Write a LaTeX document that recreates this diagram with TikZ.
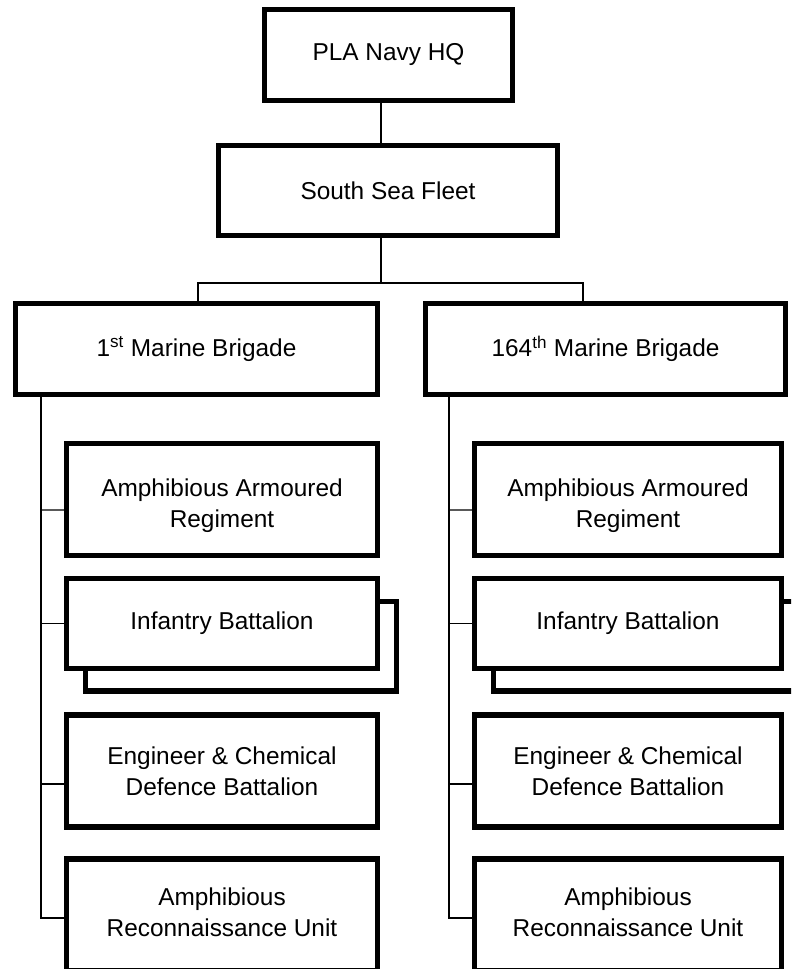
\documentclass[tikz,border=0pt]{standalone}
\usepackage{fontspec}
\setmainfont{Liberation Sans}
\begin{document}
\begin{tikzpicture}[x=0.75pt,y=-0.75pt,
  txt/.style={align=center, inner sep=0pt, font=\fontsize{18.3}{23}\selectfont},
  box/.style={draw, line width=4pt, fill=white, inner sep=0pt, txt},
  top/.style={box, minimum height=68pt},
  childL/.style={box, minimum width=233pt},
  childR/.style={box, minimum width=230pt},
  tall/.style={minimum height=84pt},
  short/.style={minimum height=67.25pt},
  conn/.style={line width=1pt}]
\useasboundingbox (0,0) rectangle (791,969);
\clip (0,0) rectangle (791,969);
\fill[white] (0,0) rectangle (791,969);

% top levels
\node[top, minimum width=185.75pt] (hq) at (388.5,55) {PLA Navy HQ};
\node[box, minimum width=254pt, minimum height=67.25pt] (ssf) at (388,190.5) {South Sea Fleet};
\node[top, minimum width=271.25pt] (b1) at (196.5,349) {1\textsuperscript{st} Marine Brigade};
\node[top, minimum width=269.75pt] (b2) at (605.5,349) {164\textsuperscript{th} Marine Brigade};

% left column
\node[childL, tall, label={[txt, yshift=-4.5pt]center:Amphibious Armoured\\Regiment}] (arm1) at (222,499.5) {};
\node[childL, short] (inf1s) at (241,646) {};
\node[childL, short] (inf1) at (222,623.5) {Infantry Battalion};
\node[childL, tall] (eng1) at (222,771) {Engineer \& Chemical\\Defence Battalion};
\node[childL, tall, label={[txt, yshift=2.25pt]center:Amphibious\\Reconnaissance Unit}] (rec1) at (222,915) {};

% right column
\node[childR, tall, label={[txt, yshift=-4.5pt]center:Amphibious Armoured\\Regiment}] (arm2) at (628,499.5) {};
\node[childR, short] (inf2s) at (647,646) {};
\node[childR, short] (inf2) at (628,623.5) {Infantry Battalion};
\node[childR, tall] (eng2) at (628,771) {Engineer \& Chemical\\Defence Battalion};
\node[childR, tall, label={[txt, yshift=2.25pt]center:Amphibious\\Reconnaissance Unit}] (rec2) at (628,915) {};

% junction coordinates
\coordinate (bus) at (381,283);
\coordinate (c1) at (198,283);
\coordinate (c2) at (583,283);
\coordinate (s1) at (41,0);
\coordinate (s2) at (449,0);

% connectors
\draw[conn] (hq.south -| bus) -- (ssf.north -| bus);
\draw[conn] (ssf.south -| bus) -- (bus);
\draw[conn] (b1.north -| c1) -- (c1) -- (c2) -- (b2.north -| c2);

\draw[conn] (b1.south -| s1) |- ([yshift=-2.25pt]rec1.west);
\draw[conn] (s1 |- arm1.west) ++(0,10.5) -- ([yshift=-7.9pt]arm1.west);
\draw[conn] (s1 |- inf1.west) -- (inf1.west);
\draw[conn] (s1 |- eng1.west) ++(0,13) -- ([yshift=-9.75pt]eng1.west);

\draw[conn] (b2.south -| s2) |- ([yshift=-2.25pt]rec2.west);
\draw[conn] (s2 |- arm2.west) ++(0,10.5) -- ([yshift=-7.9pt]arm2.west);
\draw[conn] (s2 |- inf2.west) -- (inf2.west);
\draw[conn] (s2 |- eng2.west) ++(0,13) -- ([yshift=-9.75pt]eng2.west);
\end{tikzpicture}
\end{document}
